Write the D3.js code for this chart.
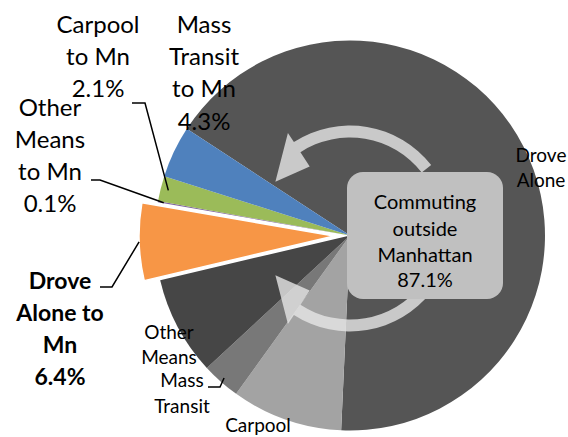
<!DOCTYPE html>
<html>
<head>
<meta charset="utf-8">
<script src="https://cdn.jsdelivr.net/npm/d3@7"></script>
<style>
  body { margin: 0; background: #fff; }
  text { font-family: Lato, "Open Sans", sans-serif; fill: #000; }
</style>
</head>
<body>
<div id="chart"></div>
<script>
// Data
const modes = ["Drove Alone", "Carpool", "Mass Transit", "Other Means",
  "Drove Alone to Mn", "Other Means to Mn", "Carpool to Mn", "Mass Transit to Mn"];
const shares = [66.5, 9.2, 3.2, 8.2, 6.4, 0.1, 2.1, 4.3];
const colors = ["#555555", "#a3a3a3", "#787878", "#464646",
  "#f79646", "#8064a2", "#9bbb59", "#4f81bd"];
const centerLines = ["Commuting", "outside", "Manhattan", "87.1%"];

const width = 568, height = 437;
const cx = 350, cy = 235.5, R = 195;
const rad = a => a * Math.PI / 180;

const svg = d3.select("#chart").append("svg")
    .attr("width", width)
    .attr("height", height);

const data = modes.map((m, i) => ({ mode: m, value: shares[i], color: colors[i] }));

// Pie layout, rotated like the Excel original
const start = rad(-56.8);
const pie = d3.pie().sort(null).value(d => d.value)
    .startAngle(start).endAngle(start + 2 * Math.PI);
const arcs = pie(data);
const arc = d3.arc().innerRadius(0).outerRadius(R);

const explode = d => d.data.mode === "Drove Alone to Mn" ? 16 : 0;
const mid = d => (d.startAngle + d.endAngle) / 2;
const pt = (r, a) => [cx + r * Math.sin(a), cy - r * Math.cos(a)];

const g = svg.append("g").attr("transform", `translate(${cx},${cy})`);
g.selectAll("path.slice")
    .data(arcs)
    .enter()
    .append("path")
    .attr("class", "slice")
    .attr("d", arc)
    .attr("fill", d => d.data.color)
    .attr("stroke", d => explode(d) ? "#fff" : "none")
    .attr("stroke-width", 1.5)
    .attr("transform", d => {
        const e = explode(d);
        return `translate(${e * Math.sin(mid(d))},${-e * Math.cos(mid(d))})`;
    });

// Circular arrows
const acx = 350, acy = 228.5, rOut = 103, rIn = 91;
const P = (r, deg) => [acx + r * Math.sin(rad(deg)), acy - r * Math.cos(rad(deg))];
const s = deg => rad(deg - 90);

function arrowPath(a0, a1, tip, dir) {
    const p = d3.path();
    const o = P(rOut, a0);
    p.moveTo(o[0], o[1]);
    p.arc(acx, acy, rOut, s(a0), s(a1), dir < 0);
    const h1 = P(114, a1), t = P(88, tip), h2 = P(74, a1), i1 = P(rIn, a1);
    p.lineTo(h1[0], h1[1]);
    p.lineTo(t[0], t[1]);
    p.lineTo(h2[0], h2[1]);
    p.lineTo(i1[0], i1[1]);
    p.arc(acx, acy, rIn, s(a1), s(a0), dir > 0);
    p.closePath();
    return p.toString();
}

svg.append("path")
    .attr("d", arrowPath(52, -33, -58, -1))
    .attr("fill", "#e6e6e6").attr("opacity", 0.8);
svg.append("path")
    .attr("d", arrowPath(128, 213, 238, 1))
    .attr("fill", "#e6e6e6").attr("opacity", 0.8);

// Center box
svg.append("rect")
    .attr("x", 347).attr("y", 172)
    .attr("width", 156).attr("height", 127)
    .attr("rx", 16)
    .attr("fill", "#c0c0c0");

function lines(x, ys, arr, size, weight) {
    const t = svg.append("text")
        .attr("text-anchor", "middle")
        .style("font-size", size + "px")
        .style("font-weight", weight || "normal");
    arr.forEach((l, i) => {
        t.append("tspan").attr("x", x).attr("y", ys[i]).attr("dy", "0.35em").text(l);
    });
}

lines(425, [202, 229, 255, 280], centerLines, 20);

// Labels
const byMode = m => arcs.find(d => d.data.mode === m);
const fmt = v => v.toFixed(1) + "%";

lines(98, [25, 57, 89], ["Carpool", "to Mn", fmt(byMode("Carpool to Mn").data.value)], 24);
lines(204, [25, 57, 89, 122], ["Mass", "Transit", "to Mn", fmt(byMode("Mass Transit to Mn").data.value)], 24);
lines(50, [108, 140, 172, 204], ["Other", "Means", "to Mn", fmt(byMode("Other Means to Mn").data.value)], 24);
lines(60, [281, 313, 345, 377], ["Drove", "Alone to", "Mn", fmt(byMode("Drove Alone to Mn").data.value)], 23, "bold");
lines(541, [155, 180], ["Drove", "Alone"], 19);
lines(169, [332, 357], ["Other", "Means"], 19);
lines(182, [380, 406], ["Mass", "Transit"], 19);
lines(258, [425], ["Carpool"], 19);

// Leader lines
function leader(mode, x0, x1, y, rf) {
    const d = byMode(mode);
    const e = explode(d);
    const end = pt(R * rf + e, mid(d));
    svg.append("polyline")
        .attr("points", `${x0},${y} ${x1},${y} ${end[0]},${end[1]}`)
        .attr("fill", "none")
        .attr("stroke", "#000")
        .attr("stroke-width", 1.5);
}
leader("Carpool to Mn", 132, 145, 103, 0.96);
leader("Other Means to Mn", 91, 100, 180, 0.97);
leader("Drove Alone to Mn", 100, 112, 287, 1.0);
leader("Mass Transit", 208, 220, 387, 0.975);
</script>
</body>
</html>
